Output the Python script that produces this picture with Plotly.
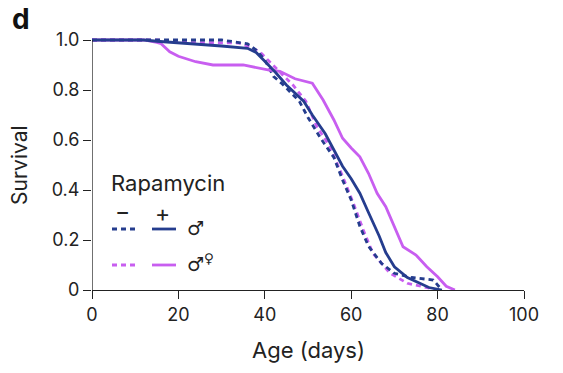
import plotly.graph_objects as go

# ---- data ----
male_rapa_x = [0, 12, 15, 22, 30, 36, 38, 40, 42.5, 45, 47.5, 49, 51, 54, 56, 58, 60, 62, 64, 66.5, 68, 70, 73, 76, 78, 81]
male_rapa_y = [1, 1, 0.995, 0.987, 0.976, 0.967, 0.95, 0.915, 0.87, 0.82, 0.78, 0.755, 0.70, 0.625, 0.56, 0.495, 0.445, 0.387, 0.31, 0.215, 0.15, 0.093, 0.05, 0.025, 0.01, 0]

male_ctrl_x = [0, 30, 36, 38, 40, 42, 44, 46, 48, 50, 53, 56, 58, 60, 62, 64, 67, 70, 74, 79, 81]
male_ctrl_y = [1, 1, 0.985, 0.96, 0.92, 0.855, 0.825, 0.79, 0.755, 0.69, 0.605, 0.53, 0.44, 0.36, 0.255, 0.175, 0.107, 0.067, 0.05, 0.04, 0]

mixed_rapa_x = [0, 12, 15, 16, 18, 20, 24, 28, 35, 41, 43.5, 47, 51, 53.5, 56, 58, 60, 62, 64, 66, 68, 70, 72, 75, 77.5, 80, 82, 84]
mixed_rapa_y = [1, 1, 0.99, 0.985, 0.953, 0.935, 0.913, 0.9, 0.9, 0.88, 0.875, 0.845, 0.827, 0.76, 0.68, 0.607, 0.568, 0.533, 0.467, 0.387, 0.333, 0.253, 0.173, 0.14, 0.093, 0.053, 0.015, 0]

mixed_ctrl_x = [0, 15, 22, 34, 37, 39, 41, 43.5, 46.5, 49.5, 52, 55, 58, 60.5, 62.8, 65, 69, 73, 77, 80]
mixed_ctrl_y = [1, 1, 0.99, 0.988, 0.97, 0.95, 0.915, 0.87, 0.82, 0.755, 0.655, 0.575, 0.455, 0.347, 0.24, 0.147, 0.067, 0.027, 0.01, 0]

x_ticks = [0, 20, 40, 60, 80, 100]
y_ticks = [0, 0.2, 0.4, 0.6, 0.8, 1.0]
y_tick_labels = ["0", "0.2", "0.4", "0.6", "0.8", "1.0"]

NAVY = "#253d8e"
MAGENTA = "#c85ef0"
FONT = "Inter"
INK = "#222"

fig = go.Figure()
lw = 2.8
fig.add_trace(go.Scatter(x=mixed_ctrl_x, y=mixed_ctrl_y, mode="lines",
                         line=dict(color=MAGENTA, width=lw, dash="5px,4px")))
fig.add_trace(go.Scatter(x=male_ctrl_x, y=male_ctrl_y, mode="lines",
                         line=dict(color=NAVY, width=lw, dash="5px,4px")))
fig.add_trace(go.Scatter(x=mixed_rapa_x, y=mixed_rapa_y, mode="lines",
                         line=dict(color=MAGENTA, width=lw)))
fig.add_trace(go.Scatter(x=male_rapa_x, y=male_rapa_y, mode="lines",
                         line=dict(color=NAVY, width=lw)))

# page body has an 8px margin; figure is sized so the plot lands where the reference's does
OFF = 8
L, R, T, B = 84, 39, 29, 83
W, H = 555, 365
PW, PH = W - L - R, H - T - B


def px(xp):
    return (xp - OFF - L) / PW


def py(yp):
    return (H + OFF - B - yp) / PH


shapes = [
    dict(type="line", xref="x", yref="y", x0=0, x1=0, y0=0, y1=1,
         line=dict(color=INK, width=1.3)),
    dict(type="line", xref="paper", yref="paper", x0=px(112), x1=px(136), y0=py(229), y1=py(229),
         line=dict(color=NAVY, width=lw, dash="5px,4px")),
    dict(type="line", xref="paper", yref="paper", x0=px(152), x1=px(176), y0=py(229), y1=py(229),
         line=dict(color=NAVY, width=lw)),
    dict(type="line", xref="paper", yref="paper", x0=px(112), x1=px(136), y0=py(265), y1=py(265),
         line=dict(color=MAGENTA, width=lw, dash="5px,4px")),
    dict(type="line", xref="paper", yref="paper", x0=px(152), x1=px(176), y0=py(265), y1=py(265),
         line=dict(color=MAGENTA, width=lw)),
]


def note(text, xp, yp, size, anchor="left", family=FONT, angle=0):
    return dict(text=text, x=px(xp), y=py(yp), xref="paper", yref="paper",
                xanchor=anchor, yanchor="middle", showarrow=False, textangle=angle,
                font=dict(size=size, color=INK, family=family))


ann = [
    dict(text="<b>d</b>", x=px(OFF + 2), y=py(19), xref="paper", yref="paper",
         xanchor="left", yanchor="middle", showarrow=False, font=dict(size=28, color="#111", family=FONT)),
    note("Rapamycin", 109, 183, 22),
    note("−", 122.5, 212, 23, "center"),
    note("+", 162, 214, 23, "center"),
    note("♂", 185, 228, 19, family="DejaVu Sans"),
    note("♂<sup>♀</sup>", 185, 263, 19, family="DejaVu Sans"),
    note("Age (days)", 308, 350, 22, "center"),
    note("Survival", 19, 165, 21, "center", angle=-90),
]

fig.update_layout(
    width=W, height=H,
    margin=dict(l=L, r=R, t=T, b=B, autoexpand=False),
    paper_bgcolor="white", plot_bgcolor="white",
    showlegend=False,
    shapes=shapes, annotations=ann,
    font=dict(family=FONT, color=INK),
    xaxis=dict(range=[0, 100], tickvals=x_ticks, ticks="outside", ticklen=8, tickwidth=1.3,
               tickcolor=INK, showline=True, linecolor=INK, linewidth=1.3, showgrid=False,
               zeroline=False, automargin=False, tickfont=dict(size=18, family=FONT, color=INK)),
    yaxis=dict(range=[0, 1.012], tickvals=y_ticks, ticktext=y_tick_labels, ticks="outside", ticklen=8,
               tickwidth=1.3, tickcolor=INK, showline=False, showgrid=False, zeroline=False,
               automargin=False, tickfont=dict(size=18, family=FONT, color=INK)),
)

fig.write_html("out.html")
